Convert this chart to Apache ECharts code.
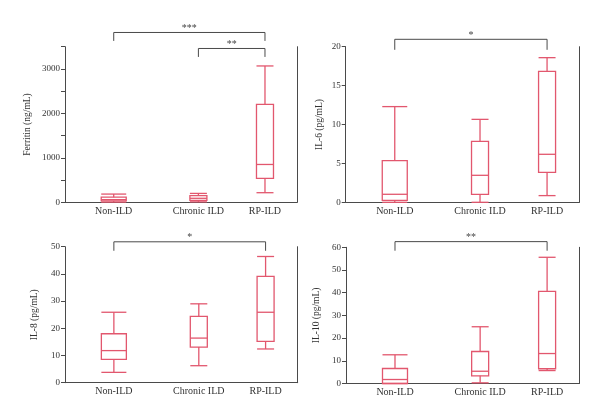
<!DOCTYPE html>
<html>
<head>
<meta charset="utf-8">
<script src="https://cdn.jsdelivr.net/npm/echarts@6/dist/echarts.min.js"></script>
<style>html,body{margin:0;padding:0;background:#fff}#c{width:600px;height:420px}</style>
</head>
<body>
<div id="c"></div>
<script>
// ---- data ----
const categories = ['Non-ILD', 'Chronic ILD', 'RP-ILD'];
// each row: [min, Q1, median, Q3, max]
const ferritin = [[5, 30, 60, 115, 185], [10, 45, 90, 150, 200], [216, 537, 851, 2201, 3067]];
const il6 = [[0, 0.26, 1.03, 5.35, 12.3], [0, 1.03, 3.47, 7.84, 10.66], [0.86, 3.85, 6.17, 16.83, 18.59]];
const il8 = [[3.8, 8.6, 11.8, 18.0, 25.9], [6.25, 13.1, 16.4, 24.4, 29.0], [12.4, 15.2, 25.9, 39.1, 46.4]];
const il10 = [[0, 0, 1.76, 6.6, 12.65], [0.3, 3.4, 5.4, 14.1, 25.0], [5.7, 6.5, 13.2, 40.6, 55.6]];
const yNames = ['Ferritin (ng/mL)', 'IL-6 (pg/mL)', 'IL-8 (pg/mL)', 'IL-10 (pg/mL)'];
const yMax = [3500, 20, 50, 60];
const yStep = [500, 5, 10, 10];
const yLabelStep = [1000, 5, 10, 10];
// significance brackets: [fromCat, toCat, bar level, end level, label]
const ferritinSig = [[0, 2, 3820, 3630, '***'], [1, 2, 3460, 3270, '**']];
const il6Sig = [[0, 2, 20.95, 19.6, '*']];
const il8Sig = [[0, 2, 51.8, 48.5, '*']];
const il10Sig = [[0, 2, 62.5, 58.5, '**']];

// ---- layout / style ----
const xPos = [0.21, 0.575, 0.862];
const boxW = [25, 17, 17];
const boxColor = '#e2576e';
const axisColor = '#4a4a4a';
const font = '"Liberation Serif", "DejaVu Serif", serif';
const grids = [
  {left: 65, top: 46.7, width: 232, height: 155.6},
  {left: 345.7, top: 46.7, width: 233.6, height: 155.6},
  {left: 65, top: 246.7, width: 232.7, height: 136},
  {left: 346, top: 247.3, width: 233.3, height: 136.2}
];
const nameGaps = [33, 21, 26, 25];
const panels = [ferritin, il6, il8, il10];
const sigs = [ferritinSig, il6Sig, il8Sig, il10Sig];

const xAxis = [], yAxis = [], series = [];
grids.forEach((g, i) => {
  xAxis.push({
    type: 'value', gridIndex: i, min: 0, max: 1,
    axisLine: {show: true, lineStyle: {color: axisColor, width: 1}},
    axisTick: {show: false}, splitLine: {show: false},
    axisLabel: {
      customValues: xPos, margin: 4, fontFamily: font, fontSize: 10, color: '#333',
      formatter: v => {
        let best = 0;
        xPos.forEach((p, k) => { if (Math.abs(p - v) < Math.abs(xPos[best] - v)) best = k; });
        return categories[best];
      }
    }
  });
  yAxis.push({
    type: 'value', gridIndex: i, min: 0, max: yMax[i], interval: yStep[i],
    name: yNames[i], nameLocation: 'middle', nameGap: nameGaps[i],
    nameTextStyle: {fontFamily: font, fontSize: 9.5, color: '#333'},
    axisLine: {show: true, lineStyle: {color: axisColor, width: 1}},
    axisTick: {show: true, length: 4, lineStyle: {color: axisColor}},
    splitLine: {show: false},
    axisLabel: {
      margin: 5, fontFamily: font, fontSize: 9, color: '#333',
      formatter: v => (Math.round(v) % yLabelStep[i] === 0 ? String(v) : '')
    }
  });
  yAxis.push({
    type: 'value', gridIndex: i, position: 'right', min: 0, max: yMax[i],
    axisLine: {show: true, lineStyle: {color: axisColor, width: 1}},
    axisTick: {show: false}, axisLabel: {show: false}, splitLine: {show: false}
  });
  // boxplots
  series.push({
    type: 'custom', xAxisIndex: i, yAxisIndex: 2 * i, clip: false,
    data: panels[i].map((r, k) => [xPos[k], ...r, k]),
    encode: {x: 0, y: [1, 2, 3, 4, 5]},
    renderItem: (params, api) => {
      const k = api.value(6);
      const x = api.value(0);
      const w = boxW[k];
      const pMin = api.coord([x, api.value(1)]);
      const pQ1 = api.coord([x, api.value(2)]);
      const pMed = api.coord([x, api.value(3)]);
      const pQ3 = api.coord([x, api.value(4)]);
      const pMax = api.coord([x, api.value(5)]);
      const cx = pMin[0], h = w / 2;
      const st = {stroke: boxColor, lineWidth: 1.3, fill: null};
      return {
        type: 'group',
        children: [
          {type: 'rect', shape: {x: cx - h, y: pQ3[1], width: w, height: pQ1[1] - pQ3[1]}, style: st},
          {type: 'line', shape: {x1: cx - h, y1: pMed[1], x2: cx + h, y2: pMed[1]}, style: st},
          {type: 'line', shape: {x1: cx, y1: pQ3[1], x2: cx, y2: pMax[1]}, style: st},
          {type: 'line', shape: {x1: cx, y1: pQ1[1], x2: cx, y2: pMin[1]}, style: st},
          {type: 'line', shape: {x1: cx - h, y1: pMax[1], x2: cx + h, y2: pMax[1]}, style: st},
          {type: 'line', shape: {x1: cx - h, y1: pMin[1], x2: cx + h, y2: pMin[1]}, style: st}
        ]
      };
    }
  });
  // significance brackets
  series.push({
    type: 'custom', xAxisIndex: i, yAxisIndex: 2 * i, clip: false,
    data: sigs[i].map(s => [xPos[s[0]], xPos[s[1]], s[2], s[3], s[4]]),
    dimensions: ['x1', 'x2', 'top', 'end', {name: 'label', type: 'ordinal'}],
    encode: {x: [0, 1], y: [2, 3]},
    renderItem: (params, api) => {
      const s = sigs[i][params.dataIndex];
      const a = api.coord([xPos[s[0]], s[2]]);
      const b = api.coord([xPos[s[1]], s[2]]);
      const e = api.coord([xPos[s[0]], s[3]]);
      const st = {stroke: axisColor, lineWidth: 1, fill: null};
      return {
        type: 'group',
        children: [
          {type: 'polyline', shape: {points: [[a[0], e[1]], [a[0], a[1]], [b[0], b[1]], [b[0], e[1]]]}, style: st},
          {type: 'text', style: {text: s[4], x: (a[0] + b[0]) / 2, y: a[1] + 1, align: 'center', verticalAlign: 'bottom',
            fontFamily: font, fontSize: 10, fill: '#444'}}
        ]
      };
    }
  });
});

const chart = echarts.init(document.getElementById('c'), null, {renderer: 'canvas'});
chart.setOption({
  animation: false,
  backgroundColor: '#fff',
  grid: grids.map(g => Object.assign({containLabel: false}, g)),
  xAxis, yAxis, series
});
</script>
</body>
</html>
